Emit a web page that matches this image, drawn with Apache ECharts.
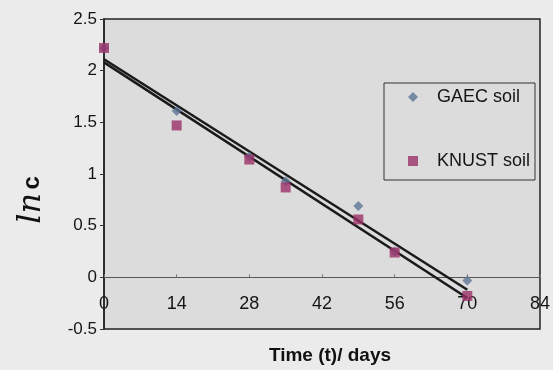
<!DOCTYPE html>
<html><head><meta charset="utf-8">
<script src="https://cdn.jsdelivr.net/npm/echarts@6/dist/echarts.min.js"></script>
<style>html,body{margin:0;padding:0;background:#ebebeb;}#c{width:553px;height:370px;}</style>
</head><body><div id="c"></div>
<script>
var days = [0, 14, 28, 35, 49, 56, 70];
var gaecSoil = [2.22, 1.61, 1.17, 0.93, 0.69, 0.25, -0.03];
var knustSoil = [2.22, 1.47, 1.14, 0.87, 0.56, 0.24, -0.18];
var gaecFitX = [0, 70];
var gaecFitY = [2.11, -0.12];
var knustFitX = [0, 70];
var knustFitY = [2.08, -0.20];
var xTicks = [0, 14, 28, 42, 56, 70, 84];
var yTicks = [-0.5, 0, 0.5, 1, 1.5, 2, 2.5];

function pairs(xs, ys) { return xs.map(function (x, i) { return [x, ys[i]]; }); }

var gridTop = 19, gridBottom = 41, H = 370;
var plotH = H - gridTop - gridBottom;
var yMin = yTicks[0], yMax = yTicks[yTicks.length - 1];
// distance (px) from the plot bottom up to the zero line
var zeroOffset = plotH * (0 - yMin) / (yMax - yMin);

var chart = echarts.init(document.getElementById('c'));
var font = 'Liberation Sans, Arial, sans-serif';
chart.setOption({
  backgroundColor: '#ebebeb',
  animation: false,
  grid: { left: 104, right: 8, top: gridTop, bottom: gridBottom, show: true, backgroundColor: '#dcdcdc', borderColor: '#222', borderWidth: 1.5 },
  xAxis: {
    type: 'value', min: xTicks[0], max: xTicks[xTicks.length - 1], interval: 14,
    offset: -zeroOffset,
    axisLine: { onZero: false, lineStyle: { color: '#555', width: 1 } },
    axisTick: { inside: true, length: 3, lineStyle: { color: '#777' } },
    splitLine: { show: false },
    axisLabel: { color: '#151515', fontSize: 18, fontFamily: font, margin: 18 }
  },
  yAxis: {
    type: 'value', min: yMin, max: yMax, interval: 0.5,
    axisLine: { show: true, onZero: false, lineStyle: { color: '#222', width: 1.5 } },
    axisTick: { show: true, length: 4, lineStyle: { color: '#333' } },
    splitLine: { show: false },
    axisLabel: { color: '#151515', fontSize: 17, fontFamily: font, margin: 7 }
  },
  legend: {
    orient: 'vertical', left: 384, top: 83,
    data: [{ name: 'GAEC soil', icon: 'diamond' }, { name: 'KNUST soil', icon: 'rect' }],
    itemWidth: 10, itemHeight: 10, itemGap: 46,
    padding: [5, 5, 10, 24],
    borderColor: '#333', borderWidth: 1, backgroundColor: '#dcdcdc',
    textStyle: { color: '#151515', fontSize: 18, lineHeight: 18, fontFamily: font, padding: [0, 0, 0, 14] }
  },
  graphic: [
    { type: 'text', x: 32, y: 200, rotation: Math.PI / 2, style: { text: '{a|ln} {b|c}', rich: { a: { fontSize: 32, fontStyle: 'italic', fontFamily: 'DejaVu Serif', fill: '#111' }, b: { fontSize: 24, fontWeight: 'bold', fontFamily: font, fill: '#111' } }, align: 'center', verticalAlign: 'middle' } },
    { type: 'text', x: 330, y: 356, style: { text: 'Time (t)/ days', font: 'bold 19px ' + font, fill: '#111', align: 'center', verticalAlign: 'middle' } }
  ],
  series: [
    { name: 'GAEC fit', type: 'line', data: pairs(gaecFitX, gaecFitY), showSymbol: false, symbol: 'none', lineStyle: { color: '#1a1a1a', width: 2.5 }, z: 2 },
    { name: 'KNUST fit', type: 'line', data: pairs(knustFitX, knustFitY), showSymbol: false, symbol: 'none', lineStyle: { color: '#1a1a1a', width: 2.5 }, z: 2 },
    { name: 'GAEC soil', type: 'scatter', data: pairs(days, gaecSoil), symbol: 'diamond', symbolSize: 10, itemStyle: { color: '#5d7596' }, z: 3 },
    { name: 'KNUST soil', type: 'scatter', data: pairs(days, knustSoil), symbol: 'rect', symbolSize: 10, itemStyle: { color: '#9b2f68' }, z: 4 }
  ]
});
</script></body></html>
